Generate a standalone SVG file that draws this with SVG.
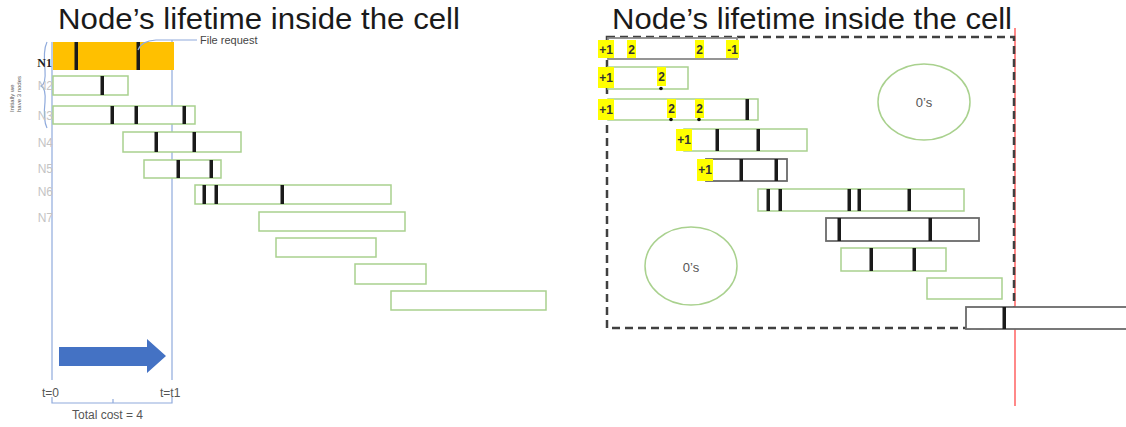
<svg xmlns="http://www.w3.org/2000/svg" width="1126" height="427" viewBox="0 0 1126 427">
  <style>
    .title { font-family: "Liberation Sans", Arial, sans-serif; font-size: 29px; fill: #1a1a1a; }
    .lbl { font-family: "Liberation Sans", Arial, sans-serif; font-size: 12px; fill: #c4c4c4; }
    .small { font-family: "Liberation Sans", Arial, sans-serif; font-size: 11px; fill: #555; }
    .hl { font-family: "Liberation Sans", Arial, sans-serif; font-size: 12px; font-weight: bold; fill: #333; }
    .bar { fill: #fff; stroke: #a9d18e; stroke-width: 1.5; }
    .bar-dark { fill: #fff; stroke: #6a6a6a; stroke-width: 1.8; }
    .tick { fill: #1a1a1a; }
    .guide { stroke: #8faadc; stroke-width: 1.2; fill: none; }
    .mark { fill: #ffff00; }
    .zone { fill: none; stroke: #a9d18e; stroke-width: 1.5; }
    .cell { fill: none; stroke: #404040; stroke-width: 2.5; stroke-dasharray: 8 5; }
  </style>

  <rect width="1126" height="427" fill="#fff"/>

  <!-- titles -->
  <text class="title" x="58" y="29" textLength="402" lengthAdjust="spacingAndGlyphs">Node’s lifetime inside the cell</text>
  <text class="title" x="612" y="29" textLength="400" lengthAdjust="spacingAndGlyphs">Node’s lifetime inside the cell</text>

  <!-- ===== left timeline ===== -->
  <g id="left-guides">
    <line class="guide" x1="52" y1="42" x2="52" y2="380"/>
    <line class="guide" x1="172" y1="40" x2="172" y2="380"/>
    <path class="guide" d="M47 42 Q43 50 45 70 Q46 84 41 86 Q46 88 45 102 Q43 120 47 128"/>
    <path class="guide" d="M52 397 V403 H172 V397 M113 403 V399"/>
  </g>
  <text class="small" transform="translate(14 112) rotate(-90)" style="font-size:6px">Initially we</text>
  <text class="small" transform="translate(21 112) rotate(-90)" style="font-size:6px">have 3 nodes</text>

  <g id="n1">
    <rect x="53" y="42" width="121" height="28" fill="#ffc000"/>
    <rect class="tick" x="74.5" y="42" width="3.5" height="28"/>
    <rect class="tick" x="136.5" y="42" width="3.5" height="28"/>
    <text x="52" y="67" text-anchor="end" style="font-family:'Liberation Serif',serif;font-size:12px;font-weight:bold;fill:#222">N1</text>
  </g>
  <g id="n2">
    <rect class="bar" x="53" y="76" width="75" height="19"/>
    <rect class="tick" x="100.5" y="76" width="3.5" height="19"/>
    <text class="lbl" x="53" y="90" text-anchor="end">N2</text>
  </g>
  <g id="n3">
    <rect class="bar" x="53" y="106" width="142" height="18"/>
    <rect class="tick" x="110.5" y="106" width="3.5" height="18"/>
    <rect class="tick" x="134.5" y="106" width="3.5" height="18"/>
    <rect class="tick" x="182.5" y="106" width="3.5" height="18"/>
    <text class="lbl" x="53" y="120" text-anchor="end">N3</text>
  </g>
  <g id="n4">
    <rect class="bar" x="123" y="132" width="118" height="20"/>
    <rect class="tick" x="154.5" y="132" width="3.5" height="20"/>
    <rect class="tick" x="192.5" y="132" width="3.5" height="20"/>
    <text class="lbl" x="53" y="147" text-anchor="end">N4</text>
  </g>
  <g id="n5">
    <rect class="bar" x="144" y="160" width="77" height="18"/>
    <rect class="tick" x="176.5" y="160" width="3.5" height="18"/>
    <rect class="tick" x="209.5" y="160" width="3.5" height="18"/>
    <text class="lbl" x="53" y="173" text-anchor="end">N5</text>
  </g>
  <g id="n6">
    <rect class="bar" x="195" y="185" width="196" height="19"/>
    <rect class="tick" x="202.5" y="185" width="3.5" height="19"/>
    <rect class="tick" x="214.5" y="185" width="3.5" height="19"/>
    <rect class="tick" x="280.5" y="185" width="3.5" height="19"/>
    <text class="lbl" x="53" y="196" text-anchor="end">N6</text>
  </g>
  <g id="n7">
    <rect class="bar" x="259" y="212" width="146" height="19"/>
    <text class="lbl" x="53" y="222" text-anchor="end">N7</text>
  </g>
  <g id="n8"><rect class="bar" x="276" y="238" width="100" height="19"/></g>
  <g id="n9"><rect class="bar" x="355" y="264" width="71" height="20"/></g>
  <g id="n10"><rect class="bar" x="391" y="291" width="155" height="19"/></g>

  <g id="connectors">
    <!-- file request callout -->
    <path class="guide" d="M138 50 Q141 41 156 40 H197"/>
    <!-- time arrow -->
    <path d="M59 347 H147 V339 L166 356 L147 373 V366 H59 Z" fill="#4472c4"/>
  </g>
  <text class="small" x="200" y="44" style="font-size:11px;fill:#444">File request</text>
  <text class="small" x="42" y="397" style="font-size:12px">t=0</text>
  <text class="small" x="160" y="397" style="font-size:12px">t=t1</text>
  <text class="small" x="72" y="419" style="font-size:12px">Total cost = 4</text>

  <!-- ===== right timeline ===== -->
  <g id="boundary">
    <line x1="1015" y1="28" x2="1015" y2="406" stroke="#ff6b6b" stroke-width="1.6"/>
    <path class="cell" d="M607 37 H1014 V328 H607 Z"/>
  </g>

  <g id="zone-top">
    <ellipse class="zone" cx="924" cy="102" rx="46" ry="38"/>
    <text class="small" x="924" y="107" text-anchor="middle" style="font-size:13px">0’s</text>
  </g>
  <g id="zone-bottom">
    <ellipse class="zone" cx="691" cy="266" rx="46" ry="39"/>
    <text class="small" x="691" y="272" text-anchor="middle" style="font-size:13px">0’s</text>
  </g>

  <g id="r1">
    <rect class="bar-dark" x="608" y="38" width="129" height="21" style="stroke:#8a8a8a"/>
    <rect class="mark" x="598" y="40" width="16" height="18"/>
    <text class="hl" x="606" y="54" text-anchor="middle">+1</text>
    <rect class="mark" x="627" y="40" width="9" height="18"/>
    <text class="hl" x="631.5" y="54" text-anchor="middle">2</text>
    <rect class="mark" x="695" y="40" width="9" height="18"/>
    <text class="hl" x="699.5" y="54" text-anchor="middle">2</text>
    <rect class="mark" x="726" y="40" width="13" height="18"/>
    <text class="hl" x="732.5" y="54" text-anchor="middle">-1</text>
  </g>
  <g id="r2">
    <rect class="bar" x="608" y="67" width="80" height="22"/>
    <rect class="mark" x="598" y="67" width="16" height="21"/>
    <text class="hl" x="606" y="82" text-anchor="middle">+1</text>
    <rect class="mark" x="657" y="67" width="9" height="19"/>
    <text class="hl" x="661.5" y="81" text-anchor="middle">2</text>
    <circle cx="661" cy="88.5" r="1.8" fill="#111"/>
  </g>
  <g id="r3">
    <rect class="bar" x="608" y="99" width="150" height="21"/>
    <rect class="mark" x="598" y="99" width="16" height="21"/>
    <text class="hl" x="606" y="114" text-anchor="middle">+1</text>
    <rect class="mark" x="667" y="99" width="9" height="19"/>
    <text class="hl" x="671.5" y="113" text-anchor="middle">2</text>
    <circle cx="671" cy="119.5" r="1.8" fill="#111"/>
    <rect class="mark" x="695" y="99" width="9" height="19"/>
    <text class="hl" x="699.5" y="113" text-anchor="middle">2</text>
    <circle cx="699" cy="119.5" r="1.8" fill="#111"/>
    <rect class="tick" x="745.5" y="99" width="3.5" height="21"/>
  </g>
  <g id="r4">
    <rect class="bar" x="684" y="129" width="123" height="22"/>
    <rect class="mark" x="676" y="129" width="16" height="22"/>
    <text class="hl" x="684" y="144" text-anchor="middle">+1</text>
    <rect class="tick" x="715.5" y="129" width="3.5" height="22"/>
    <rect class="tick" x="756.5" y="129" width="3.5" height="22"/>
  </g>
  <g id="r5">
    <rect class="bar-dark" x="706" y="159" width="81" height="22"/>
    <rect class="mark" x="697" y="159" width="16" height="22"/>
    <text class="hl" x="705" y="174" text-anchor="middle">+1</text>
    <rect class="tick" x="739.5" y="159" width="3.5" height="22"/>
    <rect class="tick" x="774.5" y="159" width="3.5" height="22"/>
  </g>
  <g id="r6">
    <rect class="bar" x="758" y="189" width="206" height="22"/>
    <rect class="tick" x="766.5" y="189" width="3.5" height="22"/>
    <rect class="tick" x="778.5" y="189" width="3.5" height="22"/>
    <rect class="tick" x="847.5" y="189" width="3.5" height="22"/>
    <rect class="tick" x="857.5" y="189" width="3.5" height="22"/>
    <rect class="tick" x="907.5" y="189" width="3.5" height="22"/>
  </g>
  <g id="r7">
    <rect class="bar-dark" x="826" y="218" width="153" height="23"/>
    <rect class="tick" x="837.5" y="218" width="3.5" height="23"/>
    <rect class="tick" x="928.5" y="218" width="3.5" height="23"/>
  </g>
  <g id="r8">
    <rect class="bar" x="841" y="248" width="105" height="23"/>
    <rect class="tick" x="869.5" y="248" width="3.5" height="23"/>
    <rect class="tick" x="912.5" y="248" width="3.5" height="23"/>
  </g>
  <g id="r9">
    <rect class="bar" x="927" y="278" width="75" height="21"/>
  </g>
  <g id="r10">
    <rect class="bar-dark" x="966" y="307" width="165" height="22"/>
    <rect class="tick" x="1002.5" y="307" width="3.5" height="22"/>
  </g>
</svg>
